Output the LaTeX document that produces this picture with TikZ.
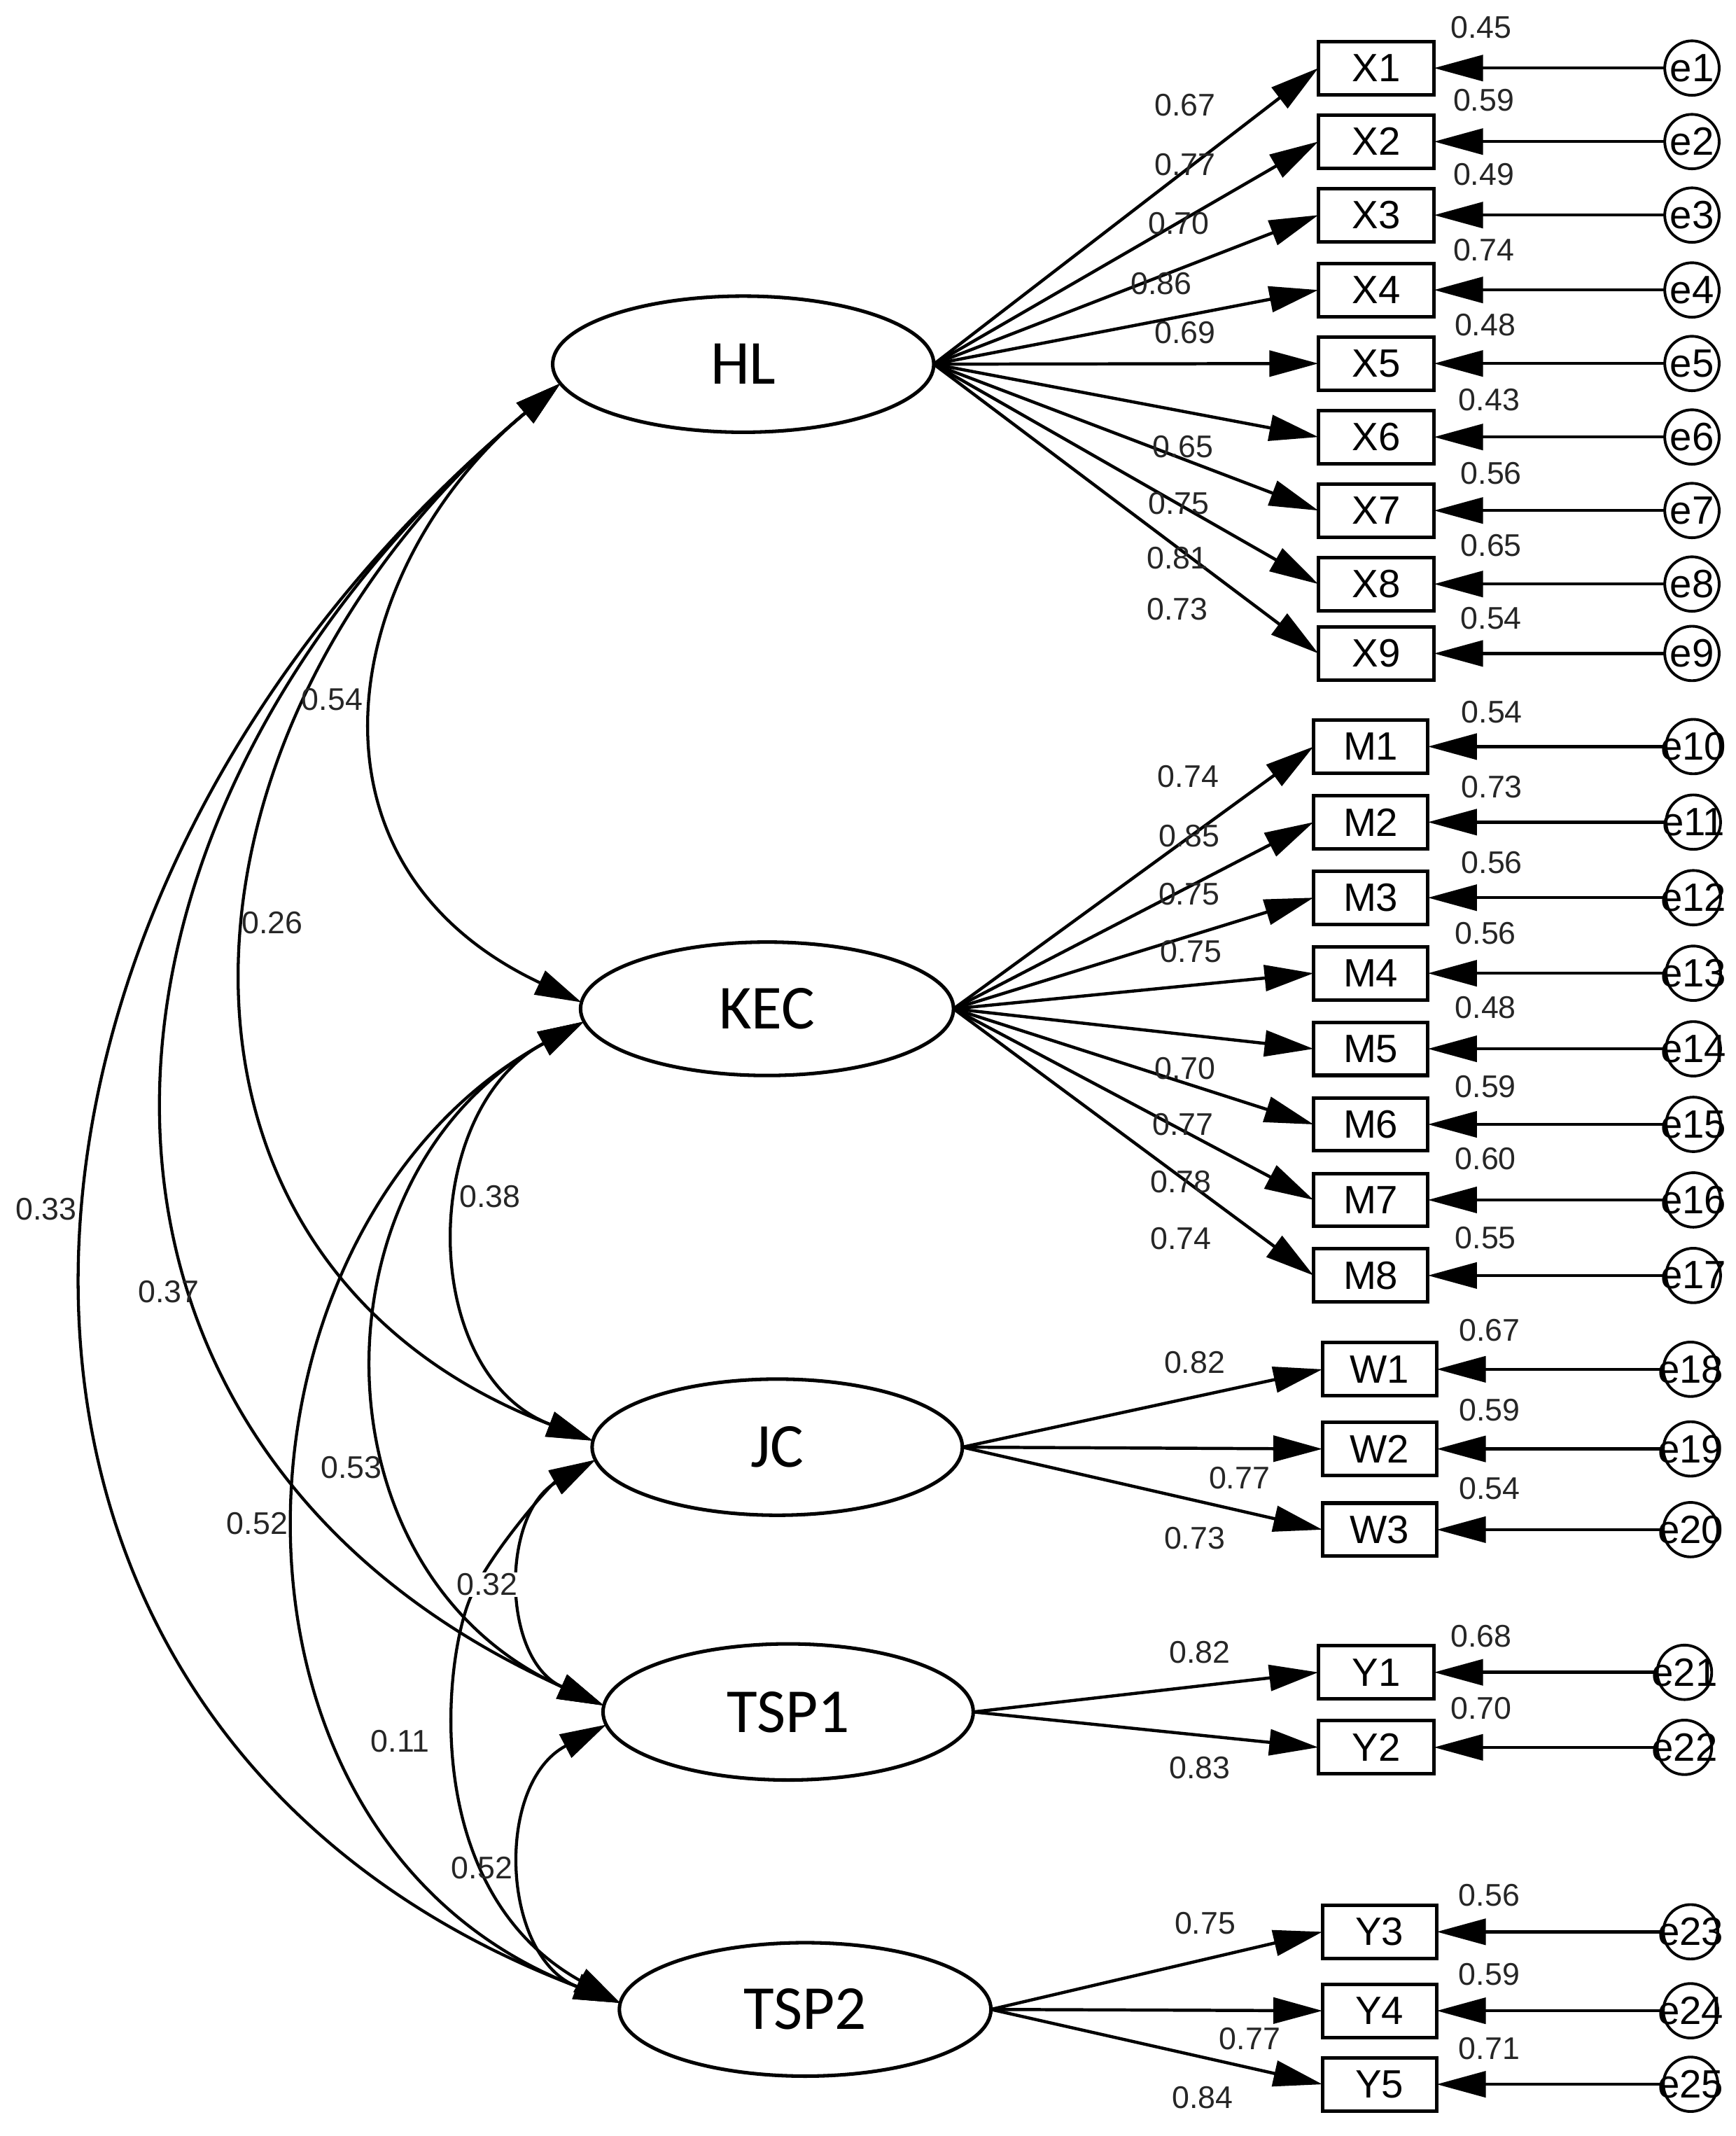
\documentclass[tikz,border=0pt]{standalone}
\usepackage{fontspec}
\setmainfont{Liberation Sans}
\newfontfamily\calib{Carlito}
\usetikzlibrary{shapes.geometric,arrows.meta}
\tikzset{
 lat/.style={ellipse, draw, line width=2.6pt, minimum width=280pt, minimum height=100pt, inner sep=0pt, outer sep=0pt, font=\calib\fontsize{46}{50}\selectfont},
 obs/.style={rectangle, draw, line width=2.6pt, minimum width=85pt, minimum height=39pt, inner sep=0pt, outer sep=0pt, font=\fontsize{29}{32}\selectfont},
 errc/.style={circle, draw, line width=2pt, minimum size=40pt, inner sep=0pt, outer sep=0pt},
 etext/.style={font=\fontsize{29}{32}\selectfont, inner sep=0pt},
 num/.style={font=\fontsize{23}{26}\selectfont, text=black!85, inner sep=0pt},
 load/.style={line width=2.3pt, -{Triangle[length=36pt,width=19pt]}},
 cov/.style={line width=2.2pt, {Triangle[length=34pt,width=19pt]}-{Triangle[length=34pt,width=19pt]}},
}
\begin{document}
\begin{tikzpicture}[x=1pt,y=-1pt]
\useasboundingbox[fill=white] (0,0) rectangle (1275,1569);
% latent variables
\node[lat] (HL) at (546,267.5) {HL};
\node[lat, minimum width=274pt, minimum height=98pt] (KEC) at (563.5,741) {KEC};
\node[lat, minimum width=272pt] (JC) at (571,1063) {JC};
\node[lat, minimum width=272pt] (TSP1) at (579,1257.5) {TSP1};
\node[lat, minimum width=273pt, minimum height=98pt] (TSP2) at (591.5,1476) {TSP2};
% observed: X
\foreach \i/\y in {1/50,2/104,3/158,4/213,5/267,6/321,7/375,8/429,9/480}{
  \node[obs] (X\i) at (1011,\y) {X\i};
  \node[errc, label={[etext]center:e\i}] (e\i) at (1243,\y) {};
  \draw[load] (HL.east) -- (X\i.west);
  \draw[load] (e\i) -- (X\i.east);
}
% observed: M
\foreach \i/\j/\y in {1/10/548.4,2/11/603.9,3/12/659.4,4/13/714.9,5/14/770.4,6/15/825.9,7/16/881.4,8/17/936.9}{
  \node[obs, minimum width=84pt] (M\i) at (1007,\y) {M\i};
  \node[errc, label={[etext]center:e\j}] (e\j) at (1244,\y) {};
  \draw[load] (KEC.east) -- (M\i.west);
  \draw[load] (e\j) -- (M\i.east);
}
% observed: W
\foreach \i/\j/\y in {1/18/1005.8,2/19/1064.3,3/20/1123.6}{
  \node[obs, minimum width=84pt] (W\i) at (1013.5,\y) {W\i};
  \node[errc, label={[etext]center:e\j}] (e\j) at (1242,\y) {};
  \draw[load] (JC.east) -- (W\i.west);
  \draw[load] (e\j) -- (W\i.east);
}
% observed: Y1-Y2
\foreach \i/\j/\y in {1/21/1228.4,2/22/1283.5}{
  \node[obs] (Y\i) at (1011,\y) {Y\i};
  \node[errc, label={[etext]center:e\j}] (e\j) at (1237.5,\y) {};
  \draw[load] (TSP1.east) -- (Y\i.west);
  \draw[load] (e\j) -- (Y\i.east);
}
% observed: Y3-Y5
\foreach \i/\j/\y in {3/23/1419,4/24/1477,5/25/1531}{
  \node[obs, minimum width=84pt] (Y\i) at (1013.5,\y) {Y\i};
  \node[errc, label={[etext]center:e\j}] (e\j) at (1242,\y) {};
  \draw[load] (TSP2.east) -- (Y\i.west);
  \draw[load] (e\j) -- (Y\i.east);
}
% covariances
\draw[cov] (HL.186) .. controls (252,415) and (208,633) .. (KEC.178);
\draw[cov] (HL.186) .. controls (112,533) and (91,927) .. (JC.178);
\draw[cov] (HL.186) .. controls (30,602) and (16,1061) .. (TSP1.178);
\draw[cov] (HL.186) .. controls (-50,669) and (-67,1273) .. (TSP2.178);
\draw[cov] (KEC.184) .. controls (307,816) and (307,1009) .. (JC.178);
\draw[cov] (KEC.184) .. controls (227,860) and (225,1155) .. (TSP1.178);
\draw[cov] (KEC.184) .. controls (157,898) and (137,1350) .. (TSP2.178);
\draw[cov] (JC.184) .. controls (368,1112) and (368,1219) .. (TSP1.178);
\draw[cov] (JC.184) .. controls (405,1090) and (360,1140) .. (345,1175) .. controls (325,1225) and (310,1390) .. (TSP2.178);
\draw[cov] (TSP1.184) .. controls (363,1310) and (368,1438) .. (TSP2.178);
% covariance labels
\node[num] (c1) at (244,514) {0.54};
\node[num] (c2) at (200,678) {0.26};
\node[num] (c3) at (34,888) {0.33};
\node[num] (c4) at (124,949) {0.37};
\node[num] (c5) at (360,879) {0.38};
\node[num] (c6) at (258,1078) {0.53};
\node[num] (c7) at (189,1119) {0.52};
\node[num, fill=white, inner sep=1pt] (c8) at (358,1164) {0.32};
\node[num] (c9) at (294,1279) {0.11};
\node[num] (c10) at (354,1372) {0.52};
% loading labels HL
\foreach \t/\x/\y [count=\k] in {0.67/870.6/77,0.77/870.6/120.7,0.70/866/164,0.86/853/208.3,0.69/870.6/244.4,0.65/869/328,0.75/866/370,0.81/864.8/410,0.73/864.8/447.7}
  \node[num] (lx\k) at (\x,\y) {\t};
% loading labels KEC
\foreach \t/\x/\y [count=\k] in {0.74/872.9/570.5,0.85/873.5/614,0.75/873.5/657,0.75/875/699,0.70/870.5/784.6,0.77/869/826,0.78/867.4/868,0.74/867.4/910}
  \node[num] (lm\k) at (\x,\y) {\t};
% loading labels JC, TSP1, TSP2
\foreach \t/\x/\y [count=\k] in {0.82/877.6/1000.9,0.77/910.5/1085.6,0.73/877.6/1129.7,0.82/881.5/1213.6,0.83/881.5/1298.3,0.75/885.3/1412.6,0.77/918.2/1497.3,0.84/883.4/1540.6}
  \node[num] (lw\k) at (\x,\y) {\t};
% error labels
\foreach \t/\x/\y [count=\k] in {0.45/1088/20.3,0.59/1090/73.8,0.49/1090/128,0.74/1090/183.7,0.48/1091/238.8,0.43/1094/293.6,0.56/1095.5/347.7,0.65/1095.5/400.8,0.54/1095.5/454.3,
  0.54/1096/523.3,0.73/1096/578,0.56/1096/633.5,0.56/1091.4/685.7,0.48/1091.4/740.3,0.59/1091.4/798,0.60/1091.4/851,0.55/1091.4/909.2,
  0.67/1094.2/977.2,0.59/1094.2/1035.5,0.54/1094.2/1093.4,0.68/1088/1201.8,0.70/1088/1255,0.56/1094/1392,0.59/1094/1450,0.71/1094/1505}
  \node[num] (le\k) at (\x,\y) {\t};
\end{tikzpicture}
\end{document}
